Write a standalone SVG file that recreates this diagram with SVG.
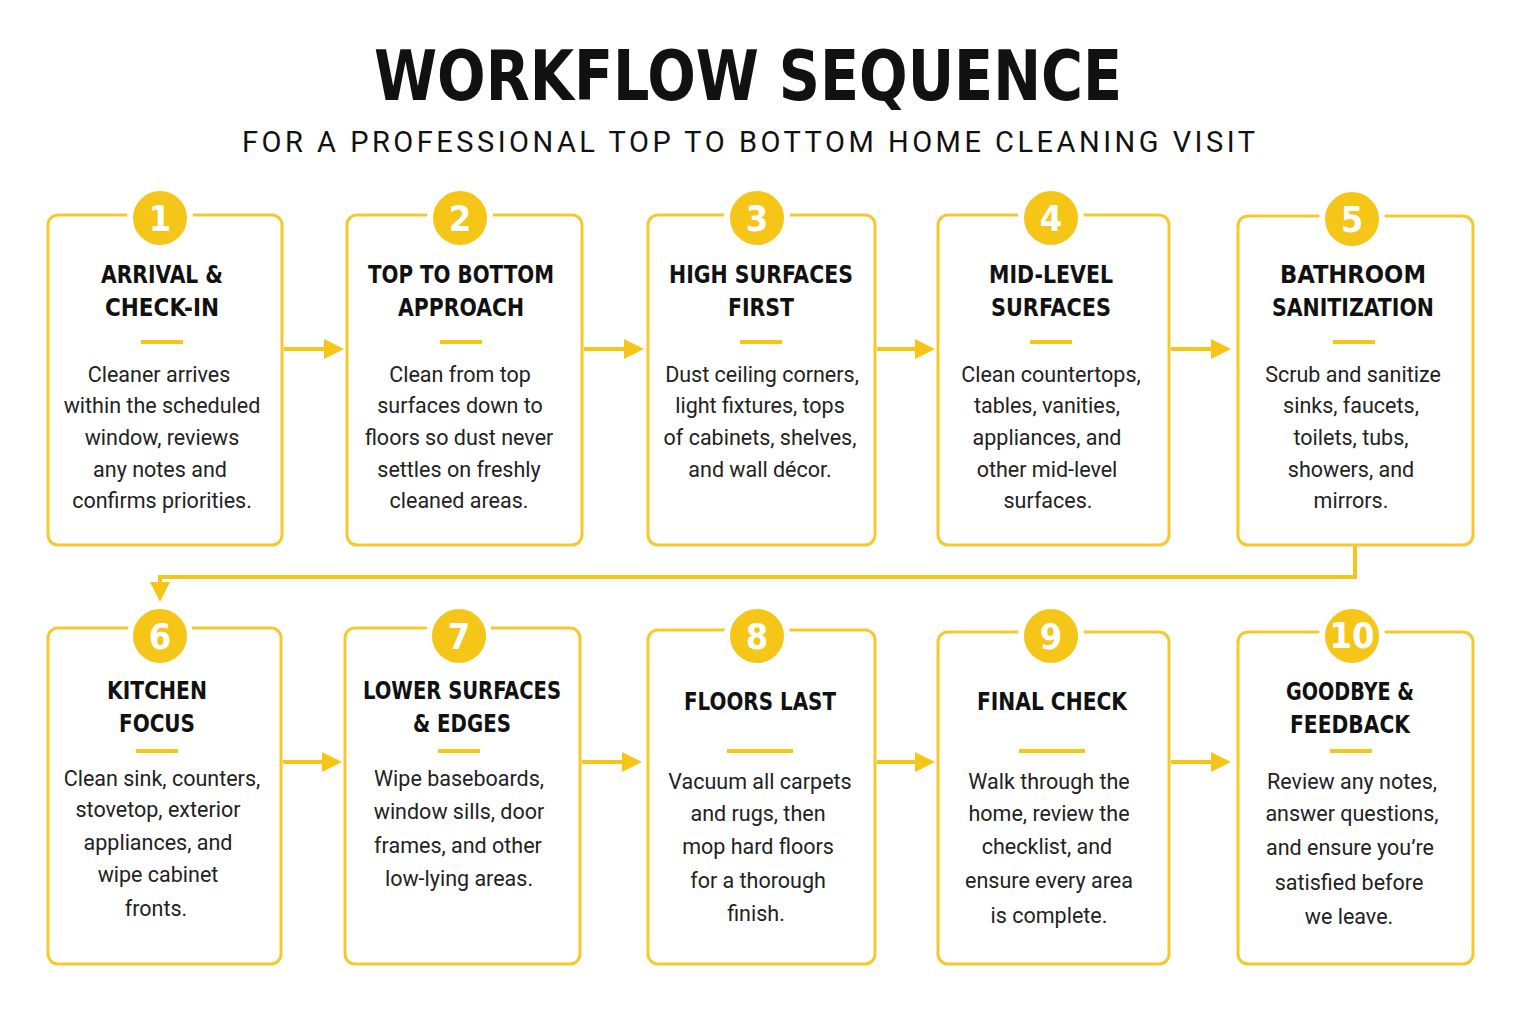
<svg xmlns="http://www.w3.org/2000/svg" width="1521" height="1012" viewBox="0 0 1521 1012">
<defs>
<marker id="ah" viewBox="0 0 10 10" refX="8" refY="5" markerWidth="5" markerHeight="5" orient="auto"><path d="M0,0 L10,5 L0,10 z" fill="#F5C518"/></marker>
</defs>
<style>
.box{fill:#fff;stroke:#F5C92E;stroke-width:3}
.circ{fill:#F5C518;stroke:#fff;stroke-width:6}
.num{font-family:"DejaVu Sans Condensed","DejaVu Sans",sans-serif;font-weight:bold;font-size:36px;fill:#fff;text-anchor:middle}
.ttl{font-family:"DejaVu Sans Condensed","DejaVu Sans",sans-serif;font-weight:bold;font-size:24px;fill:#111;text-anchor:middle}
.body{font-family:"Roboto","Liberation Sans",sans-serif;font-size:21.5px;fill:#222;text-anchor:middle}
.dash{stroke:#F5C518;stroke-width:4}
.con{stroke:#F5C518;stroke-width:4;fill:none;marker-end:url(#ah)}
</style>
<rect width="1521" height="1012" fill="#fff"/>
<text x="748" y="100" font-family="DejaVu Sans Condensed,DejaVu Sans,sans-serif" font-weight="bold" font-size="70" text-anchor="middle" fill="#111" textLength="748" lengthAdjust="spacingAndGlyphs">WORKFLOW SEQUENCE</text>
<text x="750" y="152" font-family="Roboto,Liberation Sans,sans-serif" font-size="29" text-anchor="middle" fill="#111" letter-spacing="3" textLength="1016" lengthAdjust="spacing">FOR A PROFESSIONAL TOP TO BOTTOM HOME CLEANING VISIT</text>

<g id="connectors">
<line class="con" x1="284" y1="349" x2="340" y2="349"/>
<line class="con" x1="584" y1="349" x2="640" y2="349"/>
<line class="con" x1="877" y1="349" x2="931" y2="349"/>
<line class="con" x1="1171" y1="349" x2="1227" y2="349"/>
<path class="con" d="M1355,546 V577 H160 V598"/>
<line class="con" x1="283" y1="762" x2="338" y2="762"/>
<line class="con" x1="582" y1="762" x2="638" y2="762"/>
<line class="con" x1="877" y1="762" x2="931" y2="762"/>
<line class="con" x1="1171" y1="762" x2="1227" y2="762"/>
</g>

<g id="n1"><rect class="box" x="48" y="215" width="234" height="330" rx="10"/><circle class="circ" cx="160" cy="218" r="30"/><text class="num" x="160" y="231">1</text>
<text class="ttl"><tspan x="162" y="283" textLength="122" lengthAdjust="spacingAndGlyphs">ARRIVAL &amp;</tspan><tspan x="162" y="316" textLength="114" lengthAdjust="spacingAndGlyphs">CHECK-IN</tspan></text><line class="dash" x1="141" y1="342" x2="183" y2="342"/>
<text class="body"><tspan x="159" y="382">Cleaner arrives</tspan><tspan x="162" y="413">within the scheduled</tspan><tspan x="162" y="445">window, reviews</tspan><tspan x="160" y="477">any notes and</tspan><tspan x="162" y="508">confirms priorities.</tspan></text></g>

<g id="n2"><rect class="box" x="347" y="215" width="235" height="330" rx="10"/><circle class="circ" cx="460" cy="218" r="30"/><text class="num" x="460" y="231">2</text>
<text class="ttl"><tspan x="461" y="283" textLength="186" lengthAdjust="spacingAndGlyphs">TOP TO BOTTOM</tspan><tspan x="461" y="316" textLength="126" lengthAdjust="spacingAndGlyphs">APPROACH</tspan></text><line class="dash" x1="440" y1="342" x2="482" y2="342"/>
<text class="body"><tspan x="460" y="382">Clean from top</tspan><tspan x="460" y="413">surfaces down to</tspan><tspan x="459" y="445">floors so dust never</tspan><tspan x="459" y="477">settles on freshly</tspan><tspan x="459" y="508">cleaned areas.</tspan></text></g>

<g id="n3"><rect class="box" x="648" y="215" width="227" height="330" rx="10"/><circle class="circ" cx="757" cy="218" r="30"/><text class="num" x="757" y="231">3</text>
<text class="ttl"><tspan x="761" y="283" textLength="184" lengthAdjust="spacingAndGlyphs">HIGH SURFACES</tspan><tspan x="761" y="316" textLength="66" lengthAdjust="spacingAndGlyphs">FIRST</tspan></text><line class="dash" x1="740" y1="342" x2="782" y2="342"/>
<text class="body"><tspan x="762" y="382">Dust ceiling corners,</tspan><tspan x="760" y="413">light fixtures, tops</tspan><tspan x="760" y="445">of cabinets, shelves,</tspan><tspan x="760" y="477">and wall décor.</tspan></text></g>

<g id="n4"><rect class="box" x="938" y="215" width="231" height="330" rx="10"/><circle class="circ" cx="1051" cy="218" r="30"/><text class="num" x="1051" y="231">4</text>
<text class="ttl"><tspan x="1051" y="283" textLength="124" lengthAdjust="spacingAndGlyphs">MID-LEVEL</tspan><tspan x="1051" y="316" textLength="120" lengthAdjust="spacingAndGlyphs">SURFACES</tspan></text><line class="dash" x1="1030" y1="342" x2="1072" y2="342"/>
<text class="body"><tspan x="1051" y="382">Clean countertops,</tspan><tspan x="1047" y="413">tables, vanities,</tspan><tspan x="1047" y="445">appliances, and</tspan><tspan x="1047" y="477">other mid-level</tspan><tspan x="1048" y="508">surfaces.</tspan></text></g>

<g id="n5"><rect class="box" x="1238" y="216" width="235" height="329" rx="10"/><circle class="circ" cx="1352" cy="219" r="30"/><text class="num" x="1352" y="232">5</text>
<text class="ttl"><tspan x="1353" y="283" textLength="146" lengthAdjust="spacingAndGlyphs">BATHROOM</tspan><tspan x="1353" y="316" textLength="162" lengthAdjust="spacingAndGlyphs">SANITIZATION</tspan></text><line class="dash" x1="1333" y1="342" x2="1375" y2="342"/>
<text class="body"><tspan x="1353" y="382">Scrub and sanitize</tspan><tspan x="1351" y="413">sinks, faucets,</tspan><tspan x="1351" y="445">toilets, tubs,</tspan><tspan x="1351" y="477">showers, and</tspan><tspan x="1351" y="508">mirrors.</tspan></text></g>

<g id="n6"><rect class="box" x="48" y="628" width="233" height="336" rx="10"/><circle class="circ" cx="160" cy="636" r="30"/><text class="num" x="160" y="649">6</text>
<text class="ttl"><tspan x="157" y="699" textLength="100" lengthAdjust="spacingAndGlyphs">KITCHEN</tspan><tspan x="157" y="732" textLength="76" lengthAdjust="spacingAndGlyphs">FOCUS</tspan></text><line class="dash" x1="136" y1="751" x2="178" y2="751"/>
<text class="body"><tspan x="162" y="786">Clean sink, counters,</tspan><tspan x="158" y="817">stovetop, exterior</tspan><tspan x="158" y="850">appliances, and</tspan><tspan x="158" y="882">wipe cabinet</tspan><tspan x="156" y="916">fronts.</tspan></text></g>

<g id="n7"><rect class="box" x="345" y="628" width="235" height="336" rx="10"/><circle class="circ" cx="459" cy="636" r="30"/><text class="num" x="459" y="649">7</text>
<text class="ttl"><tspan x="462" y="699" textLength="198" lengthAdjust="spacingAndGlyphs">LOWER SURFACES</tspan><tspan x="462" y="732" textLength="98" lengthAdjust="spacingAndGlyphs">&amp; EDGES</tspan></text><line class="dash" x1="438" y1="751" x2="480" y2="751"/>
<text class="body"><tspan x="459" y="786">Wipe baseboards,</tspan><tspan x="459" y="819">window sills, door</tspan><tspan x="458" y="853">frames, and other</tspan><tspan x="459" y="886">low-lying areas.</tspan></text></g>

<g id="n8"><rect class="box" x="648" y="630" width="227" height="334" rx="10"/><circle class="circ" cx="757" cy="636" r="30"/><text class="num" x="757" y="649">8</text>
<text class="ttl"><tspan x="760" y="710" textLength="152" lengthAdjust="spacingAndGlyphs">FLOORS LAST</tspan></text><line class="dash" x1="727" y1="751" x2="793" y2="751"/>
<text class="body"><tspan x="760" y="789">Vacuum all carpets</tspan><tspan x="758" y="821">and rugs, then</tspan><tspan x="758" y="854">mop hard floors</tspan><tspan x="758" y="888">for a thorough</tspan><tspan x="756" y="921">finish.</tspan></text></g>

<g id="n9"><rect class="box" x="938" y="632" width="231" height="332" rx="10"/><circle class="circ" cx="1051" cy="636" r="30"/><text class="num" x="1051" y="649">9</text>
<text class="ttl"><tspan x="1052" y="710" textLength="150" lengthAdjust="spacingAndGlyphs">FINAL CHECK</tspan></text><line class="dash" x1="1019" y1="751" x2="1085" y2="751"/>
<text class="body"><tspan x="1049" y="789">Walk through the</tspan><tspan x="1049" y="821">home, review the</tspan><tspan x="1047" y="854">checklist, and</tspan><tspan x="1049" y="888">ensure every area</tspan><tspan x="1049" y="923">is complete.</tspan></text></g>

<g id="n10"><rect class="box" x="1238" y="632" width="235" height="332" rx="10"/><circle class="circ" cx="1352" cy="636" r="30"/><text class="num" x="1352" y="648" font-size="32">10</text>
<text class="ttl"><tspan x="1350" y="700" textLength="128" lengthAdjust="spacingAndGlyphs">GOODBYE &amp;</tspan><tspan x="1350" y="733" textLength="120" lengthAdjust="spacingAndGlyphs">FEEDBACK</tspan></text><line class="dash" x1="1330" y1="751" x2="1372" y2="751"/>
<text class="body"><tspan x="1352" y="789">Review any notes,</tspan><tspan x="1352" y="821">answer questions,</tspan><tspan x="1350" y="855">and ensure you’re</tspan><tspan x="1349" y="890">satisfied before</tspan><tspan x="1349" y="924">we leave.</tspan></text></g>
</svg>
